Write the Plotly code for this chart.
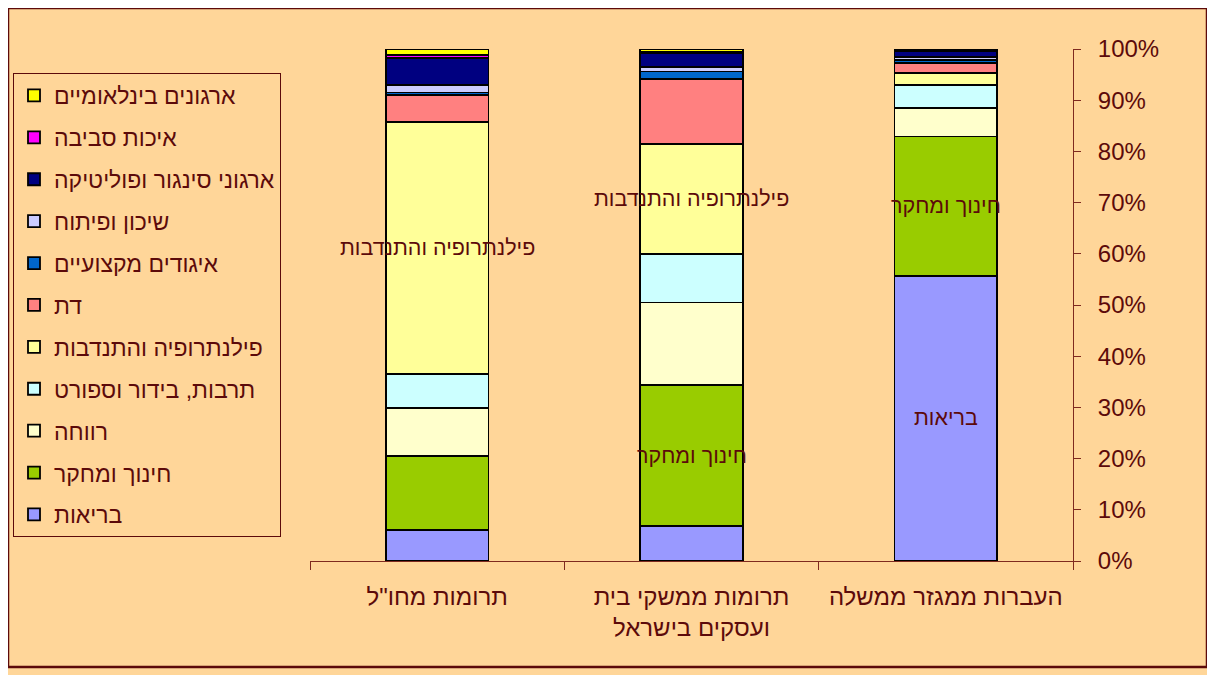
import plotly.graph_objects as go

categories = ['תרומות מחו"ל', 'תרומות ממשקי בית<br>ועסקים בישראל', 'העברות ממגזר ממשלה']

series_names = [
    'בריאות',
    'חינוך ומחקר',
    'רווחה',
    'תרבות, בידור וספורט',
    'פילנתרופיה והתנדבות',
    'דת',
    'איגודים מקצועיים',
    'שיכון ופיתוח',
    'ארגוני סינגור ופוליטיקה',
    'איכות סביבה',
    'ארגונים בינלאומיים',
]

health = [6.0, 6.8, 55.7]
education = [14.5, 27.5, 27.2]
welfare = [9.4, 16.2, 5.5]
culture = [6.6, 9.4, 4.6]
philanthropy = [49.2, 21.5, 2.3]
religion = [5.3, 12.8, 2.0]
unions = [0.5, 1.4, 0.6]
housing = [1.4, 0.9, 0.6]
advocacy = [5.4, 2.7, 1.0]
environment = [0.6, 0.3, 0.2]
international = [1.1, 0.5, 0.3]

series_values = [health, education, welfare, culture, philanthropy, religion,
                 unions, housing, advocacy, environment, international]

colors = ['#9999FF', '#99CC00', '#FFFFCC', '#CCFFFF', '#FFFF99', '#FF8080',
          '#0066CC', '#CCCCFF', '#000080', '#FF00FF', '#FFFF00']

tick_vals = [0, 10, 20, 30, 40, 50, 60, 70, 80, 90, 100]
tick_text = [f'{v}%' for v in tick_vals]

label_threshold = 20

BG = '#FFD699'
TXT = '#5C0A0A'
AX = '#7F2A1F'
FONT = 'Liberation Sans, Arial, DejaVu Sans, sans-serif'

n = len(series_names)
fig = go.Figure()
for i, (name, vals, col) in enumerate(zip(series_names, series_values, colors)):
    fig.add_trace(go.Bar(
        x=categories, y=vals, name=name, legendgroup=f'g{i}',
        legendrank=100 + (n - i),
        marker=dict(color=col, line=dict(color='#000000', width=1.8)),
        hoverinfo='name+y',
    ))

# data labels (series names) for large segments, placed at segment midpoints
annotations = []
for ci, cat in enumerate(categories):
    base = 0.0
    for name, vals in zip(series_names, series_values):
        v = vals[ci]
        if v >= label_threshold:
            annotations.append(dict(
                x=cat, y=base + v / 2, xref='x', yref='y', text=name,
                showarrow=False, font=dict(size=21.5, color=TXT, family=FONT),
            ))
        base += v

# the page places the figure 8px in from the window's corner
OFF = 8
W, H = 1215 - OFF, 675 - OFF
ml, mt = 310 - OFF, 49 - OFF
plot_right, plot_bottom = 1073 - OFF, 561 - OFF
mr, mb = W - plot_right, H - plot_bottom
pw, ph = W - ml - mr, H - mt - mb


def px_to_paper_x(px):
    return (px - OFF - ml) / pw


def px_to_paper_y(py):
    return (H - mb - (py - OFF)) / ph


fig.update_layout(
    width=W, height=H,
    barmode='stack', bargap=0.597,
    paper_bgcolor=BG, plot_bgcolor=BG,
    margin=dict(l=ml, r=mr, t=mt, b=mb, pad=0, autoexpand=False),
    font=dict(family=FONT, color=TXT, size=24),
    showlegend=True,
    legend=dict(
        traceorder='grouped', tracegroupgap=9,
        xref='container', yref='container',
        x=(13 - OFF) / W, xanchor='left',
        y=1 - (73 - OFF) / H, yanchor='top',
        maxheight=560,
        bgcolor=BG, bordercolor='#5C0A0A', borderwidth=1,
        font=dict(size=23, color=TXT, family=FONT),
    ),
    annotations=annotations,
    shapes=[dict(
        type='rect', xref='paper', yref='paper',
        x0=px_to_paper_x(8), x1=px_to_paper_x(1207),
        y0=px_to_paper_y(667), y1=px_to_paper_y(8),
        line=dict(color='#5C0A0A', width=2.5), fillcolor='rgba(0,0,0,0)',
        layer='below',
    )],
    xaxis=dict(
        showline=True, linecolor=AX, linewidth=1,
        ticks='outside', tickson='boundaries', ticklen=8, tickcolor=AX,
        ticklabelstandoff=14,
        tickfont=dict(size=24, color=TXT, family=FONT),
        showgrid=False, zeroline=False, fixedrange=True,
    ),
    yaxis=dict(
        side='right', range=[0, 100], tickvals=tick_vals, ticktext=tick_text,
        showline=True, linecolor=AX, linewidth=1,
        ticks='outside', ticklen=7, tickcolor=AX, ticklabelstandoff=12,
        tickfont=dict(size=24, color=TXT, family=FONT),
        showgrid=False, zeroline=False, fixedrange=True,
    ),
)

fig.write_html('out.html')
